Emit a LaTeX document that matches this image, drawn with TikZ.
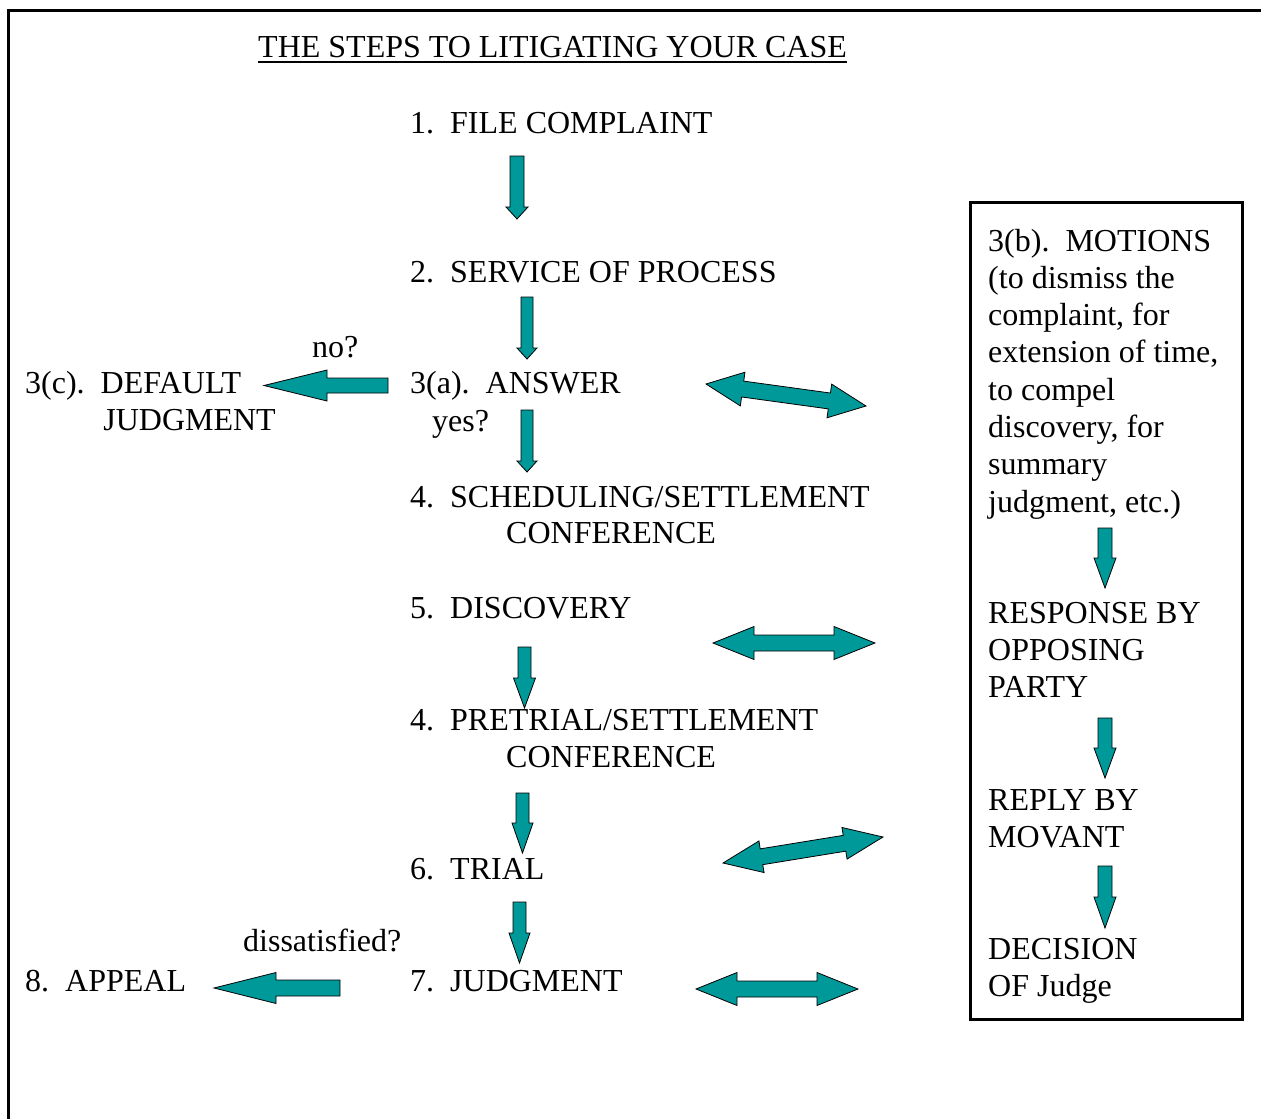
\documentclass[tikz,border=0pt]{standalone}
\usepackage{fontspec}
\setmainfont{Liberation Serif}
\usetikzlibrary{calc}
\definecolor{tealfill}{RGB}{0,153,153}
\newcommand\dnarr[6]{% x, ytop, yheadbase, ytip, shaft half width, head half width
  \filldraw[blockarrow] (#1-#5,#2) -- (#1+#5,#2) -- (#1+#5,#3) -- (#1+#6,#3) -- (#1,#4) -- (#1-#6,#3) -- (#1-#5,#3) -- cycle;}
\newcommand\ltarr[6]{% xtail, xheadbase, xtip, ycenter, shaft half width, head half width
  \filldraw[blockarrow] (#1,#4-#5) -- (#2,#4-#5) -- (#2,#4-#6) -- (#3,#4) -- (#2,#4+#6) -- (#2,#4+#5) -- (#1,#4+#5) -- cycle;}
\newcommand\dblarr[5]{% A, B, head length, head half width, shaft half width
  \coordinate (da) at #1; \coordinate (db) at #2;
  \coordinate (ha) at ($(da)!#3!(db)$); \coordinate (hb) at ($(db)!#3!(da)$);
  \filldraw[blockarrow] (da) -- ($(ha)!#4!90:(db)$) -- ($(ha)!#5!90:(db)$) -- ($(hb)!#5!90:(db)$) -- ($(hb)!#4!90:(db)$) -- (db)
    -- ($(hb)!#4!-90:(db)$) -- ($(hb)!#5!-90:(db)$) -- ($(ha)!#5!-90:(db)$) -- ($(ha)!#4!-90:(db)$) -- cycle;}
\begin{document}
\begin{tikzpicture}[x=1pt,y=-1pt,
  txt/.style={anchor=base west, inner sep=0pt, font=\fontsize{32}{37}\selectfont},
  txtr/.style={anchor=base east, inner sep=0pt, font=\fontsize{32}{37}\selectfont},
  blockarrow/.style={fill=tealfill, draw=black, line width=0.8pt, line join=miter}]
\useasboundingbox (0,0) rectangle (1261,1119);
% outer frame (right and bottom sides fall outside the picture)
\draw[line width=3pt] (8.5,1130) -- (8.5,10.5) -- (1275,10.5);
% motions box
\draw[line width=3pt] (970.5,202.5) rectangle (1242,1019.5);

% title
\node[txt] (title) at (258,57) {THE STEPS TO LITIGATING YOUR CASE};
\draw[line width=2pt] ([yshift=-4.5pt]title.base west) -- ([yshift=-4.5pt]title.base east);

% main column
\node[txt] (s1) at (410,133) {1.\ \ FILE COMPLAINT};
\node[txt] (s2) at (410,282) {2.\ \ SERVICE OF PROCESS};
\node[txt] (no) at (312,357) {no?};
\node[txt] (s3c) at (25,393) {3(c).\ \ DEFAULT};
\node[txtr] (s3cb) at (276,430) {JUDGMENT};
\node[txt] (s3a) at (410,393) {3(a).\ \ ANSWER};
\node[txt] (yes) at (432,431) {yes?};
\node[txt] (s4) at (410,507) {4.\ \ SCHEDULING/SETTLEMENT};
\node[txt] (s4b) at (506,543) {CONFERENCE};
\node[txt] (s5) at (410,618) {5.\ \ DISCOVERY};
\node[txt] (s4p) at (410,730) {4.\ \ PRETRIAL/SETTLEMENT};
\node[txt] (s4pb) at (506,767) {CONFERENCE};
\node[txt] (s6) at (410,879) {6.\ \ TRIAL};
\node[txt] (diss) at (243,951) {dissatisfied?};
\node[txt] (s8) at (25,991) {8.\ \ APPEAL};
\node[txt] (s7) at (410,991) {7.\ \ JUDGMENT};

% motions box text
\node[txt] (m1) at (988,251) {3(b).\ \ MOTIONS};
\node[txt] (m2) at (988,288.3) {(to dismiss the};
\node[txt] (m3) at (988,325.6) {complaint, for};
\node[txt] (m4) at (988,362.9) {extension of time,};
\node[txt] (m5) at (988,400.2) {to compel};
\node[txt] (m6) at (988,437.5) {discovery, for};
\node[txt] (m7) at (988,474.8) {summary};
\node[txt] (m8) at (988,512.1) {judgment, etc.)};
\node[txt] (r1) at (988,623) {RESPONSE BY};
\node[txt] (r2) at (988,660) {OPPOSING};
\node[txt] (r3) at (988,697) {PARTY};
\node[txt] (p1) at (988,810) {REPLY BY};
\node[txt] (p2) at (988,847) {MOVANT};
\node[txt] (d1) at (988,959) {DECISION};
\node[txt] (d2) at (988,996) {OF Judge};

% down arrows, main column
\dnarr{517}{156}{207}{219}{7}{11}
\dnarr{527}{297}{348}{359}{6}{10}
\dnarr{527}{410}{461}{472}{6}{10}
\dnarr{524.5}{647}{678}{708}{6.5}{11}
\dnarr{522.5}{793}{823}{853}{6.5}{10.5}
\dnarr{519.5}{902}{933}{963}{6.5}{10.5}
% down arrows, motions box
\dnarr{1105}{528}{558}{588}{7}{11}
\dnarr{1105}{718}{748}{778}{7}{11}
\dnarr{1105}{866}{897}{928}{7}{11}
% left arrows
\ltarr{388}{327}{264}{385.5}{7.5}{15.5}
\ltarr{340}{276}{214}{988}{8}{15.5}
% double arrows
\dblarr{(706,384)}{(866,406)}{37pt}{17pt}{8pt}
\dblarr{(713,643)}{(875,643)}{41pt}{16.5pt}{8pt}
\dblarr{(723,863)}{(883,837)}{39pt}{16pt}{8pt}
\dblarr{(696,989)}{(858,989)}{41pt}{16.5pt}{8pt}
\end{tikzpicture}
\end{document}
